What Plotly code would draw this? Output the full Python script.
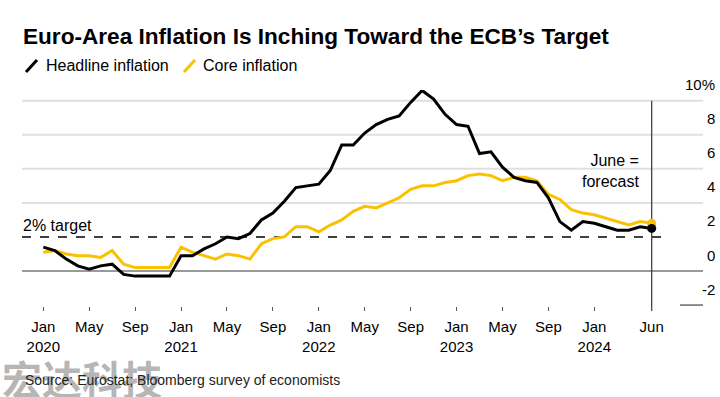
import plotly.graph_objects as go

# ---------------- data ----------------
start_month = "2020-01"
headline = [1.4, 1.2, 0.7, 0.3, 0.1, 0.3, 0.4, -0.2, -0.3, -0.3, -0.3, -0.3,
            0.9, 0.9, 1.3, 1.6, 2.0, 1.9, 2.2, 3.0, 3.4, 4.1, 4.9, 5.0,
            5.1, 5.9, 7.4, 7.4, 8.1, 8.6, 8.9, 9.1, 9.9, 10.6, 10.1, 9.2,
            8.6, 8.5, 6.9, 7.0, 6.1, 5.5, 5.3, 5.2, 4.3, 2.9, 2.4, 2.9,
            2.8, 2.6, 2.4, 2.4, 2.6, 2.5]
core = [1.1, 1.2, 1.0, 0.9, 0.9, 0.8, 1.2, 0.4, 0.2, 0.2, 0.2, 0.2,
        1.4, 1.1, 0.9, 0.7, 1.0, 0.9, 0.7, 1.6, 1.9, 2.0, 2.6, 2.6,
        2.3, 2.7, 3.0, 3.5, 3.8, 3.7, 4.0, 4.3, 4.8, 5.0, 5.0, 5.2,
        5.3, 5.6, 5.7, 5.6, 5.3, 5.5, 5.5, 5.3, 4.5, 4.2, 3.6, 3.4,
        3.3, 3.1, 2.9, 2.7, 2.9, 2.8]
tick_months = [0, 4, 8, 12, 16, 20, 24, 28, 32, 36, 40, 44, 48, 53]
tick_labels = ["Jan<br>2020", "May", "Sep", "Jan<br>2021", "May", "Sep",
               "Jan<br>2022", "May", "Sep", "Jan<br>2023", "May", "Sep",
               "Jan<br>2024", "Jun"]
y_ticks = [-2, 0, 2, 4, 6, 8, 10]
y_labels = ["-2", "0", "2", "4", "6", "8", "10%"]
target = 2
forecast_month = 53

months = list(range(len(headline)))

# ---------------- geometry helpers (pixels -> paper) ----------------
W, H = 720, 397
L, R, T, B = 22, 703, 90, 306
ZERO_PX, PX_PER_UNIT = 271, 17.03


def px(x):
    return (x - L) / (R - L)


def py(y):
    return (B - y) / (B - T)


FONT = "Liberation Sans, Arial, sans-serif"
YELLOW = "#FBC100"

fig = go.Figure()
fig.add_trace(go.Scatter(x=months, y=core, mode="lines",
                         line=dict(color=YELLOW, width=3), showlegend=False,
                         hoverinfo="skip"))
fig.add_trace(go.Scatter(x=months, y=headline, mode="lines",
                         line=dict(color="#000000", width=3), showlegend=False,
                         hoverinfo="skip"))
fig.add_trace(go.Scatter(x=[months[-1]], y=[core[-1]], mode="markers",
                         marker=dict(color=YELLOW, size=9), showlegend=False,
                         hoverinfo="skip"))
fig.add_trace(go.Scatter(x=[months[-1]], y=[headline[-1]], mode="markers",
                         marker=dict(color="#000000", size=9), showlegend=False,
                         hoverinfo="skip"))

shapes = []
for v in y_ticks:
    if v in (4, 6, 8, 10):
        shapes.append(dict(type="line", xref="paper", yref="y", x0=0, x1=1,
                           y0=v, y1=v, line=dict(color="#e0e0e0", width=2),
                           layer="below"))
shapes.append(dict(type="line", xref="paper", yref="y", x0=0, x1=1, y0=0, y1=0,
                   line=dict(color="#777777", width=1.5), layer="below"))
shapes.append(dict(type="line", xref="paper", yref="y", x0=px(680), x1=1,
                   y0=-2, y1=-2, line=dict(color="#444444", width=1.2),
                   layer="below"))
shapes.append(dict(type="line", xref="paper", yref="y", x0=0, x1=px(668),
                   y0=target, y1=target,
                   line=dict(color="#000000", width=1.5, dash="dash"),
                   layer="below"))
shapes.append(dict(type="line", xref="x", yref="paper", x0=forecast_month,
                   x1=forecast_month, y0=py(311), y1=py(100.7),
                   line=dict(color="#333333", width=1.2), layer="below"))
shapes.append(dict(type="line", xref="paper", yref="paper", x0=px(26), x1=px(37),
                   y0=py(72), y1=py(60), line=dict(color="#000000", width=3)))
shapes.append(dict(type="line", xref="paper", yref="paper", x0=px(184), x1=px(195),
                   y0=py(72), y1=py(60), line=dict(color=YELLOW, width=3)))

annotations = [
    dict(xref="paper", yref="paper", x=px(0), y=py(378), text="<b>宏达科技</b>",
         showarrow=False, xanchor="left", yanchor="middle",
         font=dict(family="Noto Sans CJK SC", size=40, color="rgba(150,150,150,0.7)")),
]
for v, lab in zip(y_ticks, y_labels):
    annotations.append(dict(xref="paper", yref="y", x=px(717), y=v, yshift=16,
                            text=lab, showarrow=False, xanchor="right",
                            yanchor="middle",
                            font=dict(family=FONT, size=15, color="#000")))
annotations += [
    dict(xref="paper", yref="paper", x=px(21), y=py(36),
         text="<b>Euro-Area Inflation Is Inching Toward the ECB’s Target</b>",
         showarrow=False, xanchor="left", yanchor="middle",
         font=dict(family=FONT, size=22.6, color="#000")),
    dict(xref="paper", yref="paper", x=px(44), y=py(66), text="Headline inflation",
         showarrow=False, xanchor="left", yanchor="middle",
         font=dict(family=FONT, size=16, color="#000")),
    dict(xref="paper", yref="paper", x=px(201), y=py(66), text="Core inflation",
         showarrow=False, xanchor="left", yanchor="middle",
         font=dict(family=FONT, size=16, color="#000")),
    dict(xref="paper", yref="y", x=px(21), y=target, yshift=11, text="2% target",
         showarrow=False, xanchor="left", yanchor="middle",
         font=dict(family=FONT, size=16, color="#000")),
    dict(xref="paper", yref="paper", x=px(641), y=py(171), text="June =<br>forecast",
         showarrow=False, xanchor="right", yanchor="middle", align="right",
         font=dict(family=FONT, size=16, color="#000")),
    dict(xref="paper", yref="paper", x=px(23), y=py(380),
         text="Source: Eurostat; Bloomberg survey of economists",
         showarrow=False, xanchor="left", yanchor="middle",
         font=dict(family=FONT, size=14, color="#222")),
]

fig.update_layout(
    width=W, height=H,
    margin=dict(l=L, r=W - R, t=T, b=H - B, pad=0),
    paper_bgcolor="white", plot_bgcolor="white",
    shapes=shapes, annotations=annotations,
    xaxis=dict(range=[-(43.3 - L) / 11.48, 53 + (R - 651.7) / 11.48],
               tickmode="array", tickvals=tick_months, ticktext=tick_labels,
               ticks="outside", ticklen=4, tickwidth=1, tickcolor="#555",
               ticklabelstandoff=3,
               showgrid=False, zeroline=False, showline=False,
               tickfont=dict(family=FONT, size=15, color="#000")),
    yaxis=dict(range=[-(B - ZERO_PX) / PX_PER_UNIT, 10 + (100.7 - T) / PX_PER_UNIT],
               showgrid=False, zeroline=False, showticklabels=False,
               showline=False),
    showlegend=False,
)

fig.write_html("out.html", config={"displayModeBar": False},
               post_script="document.body.style.margin='0';"
                           "document.body.style.overflow='hidden';")
